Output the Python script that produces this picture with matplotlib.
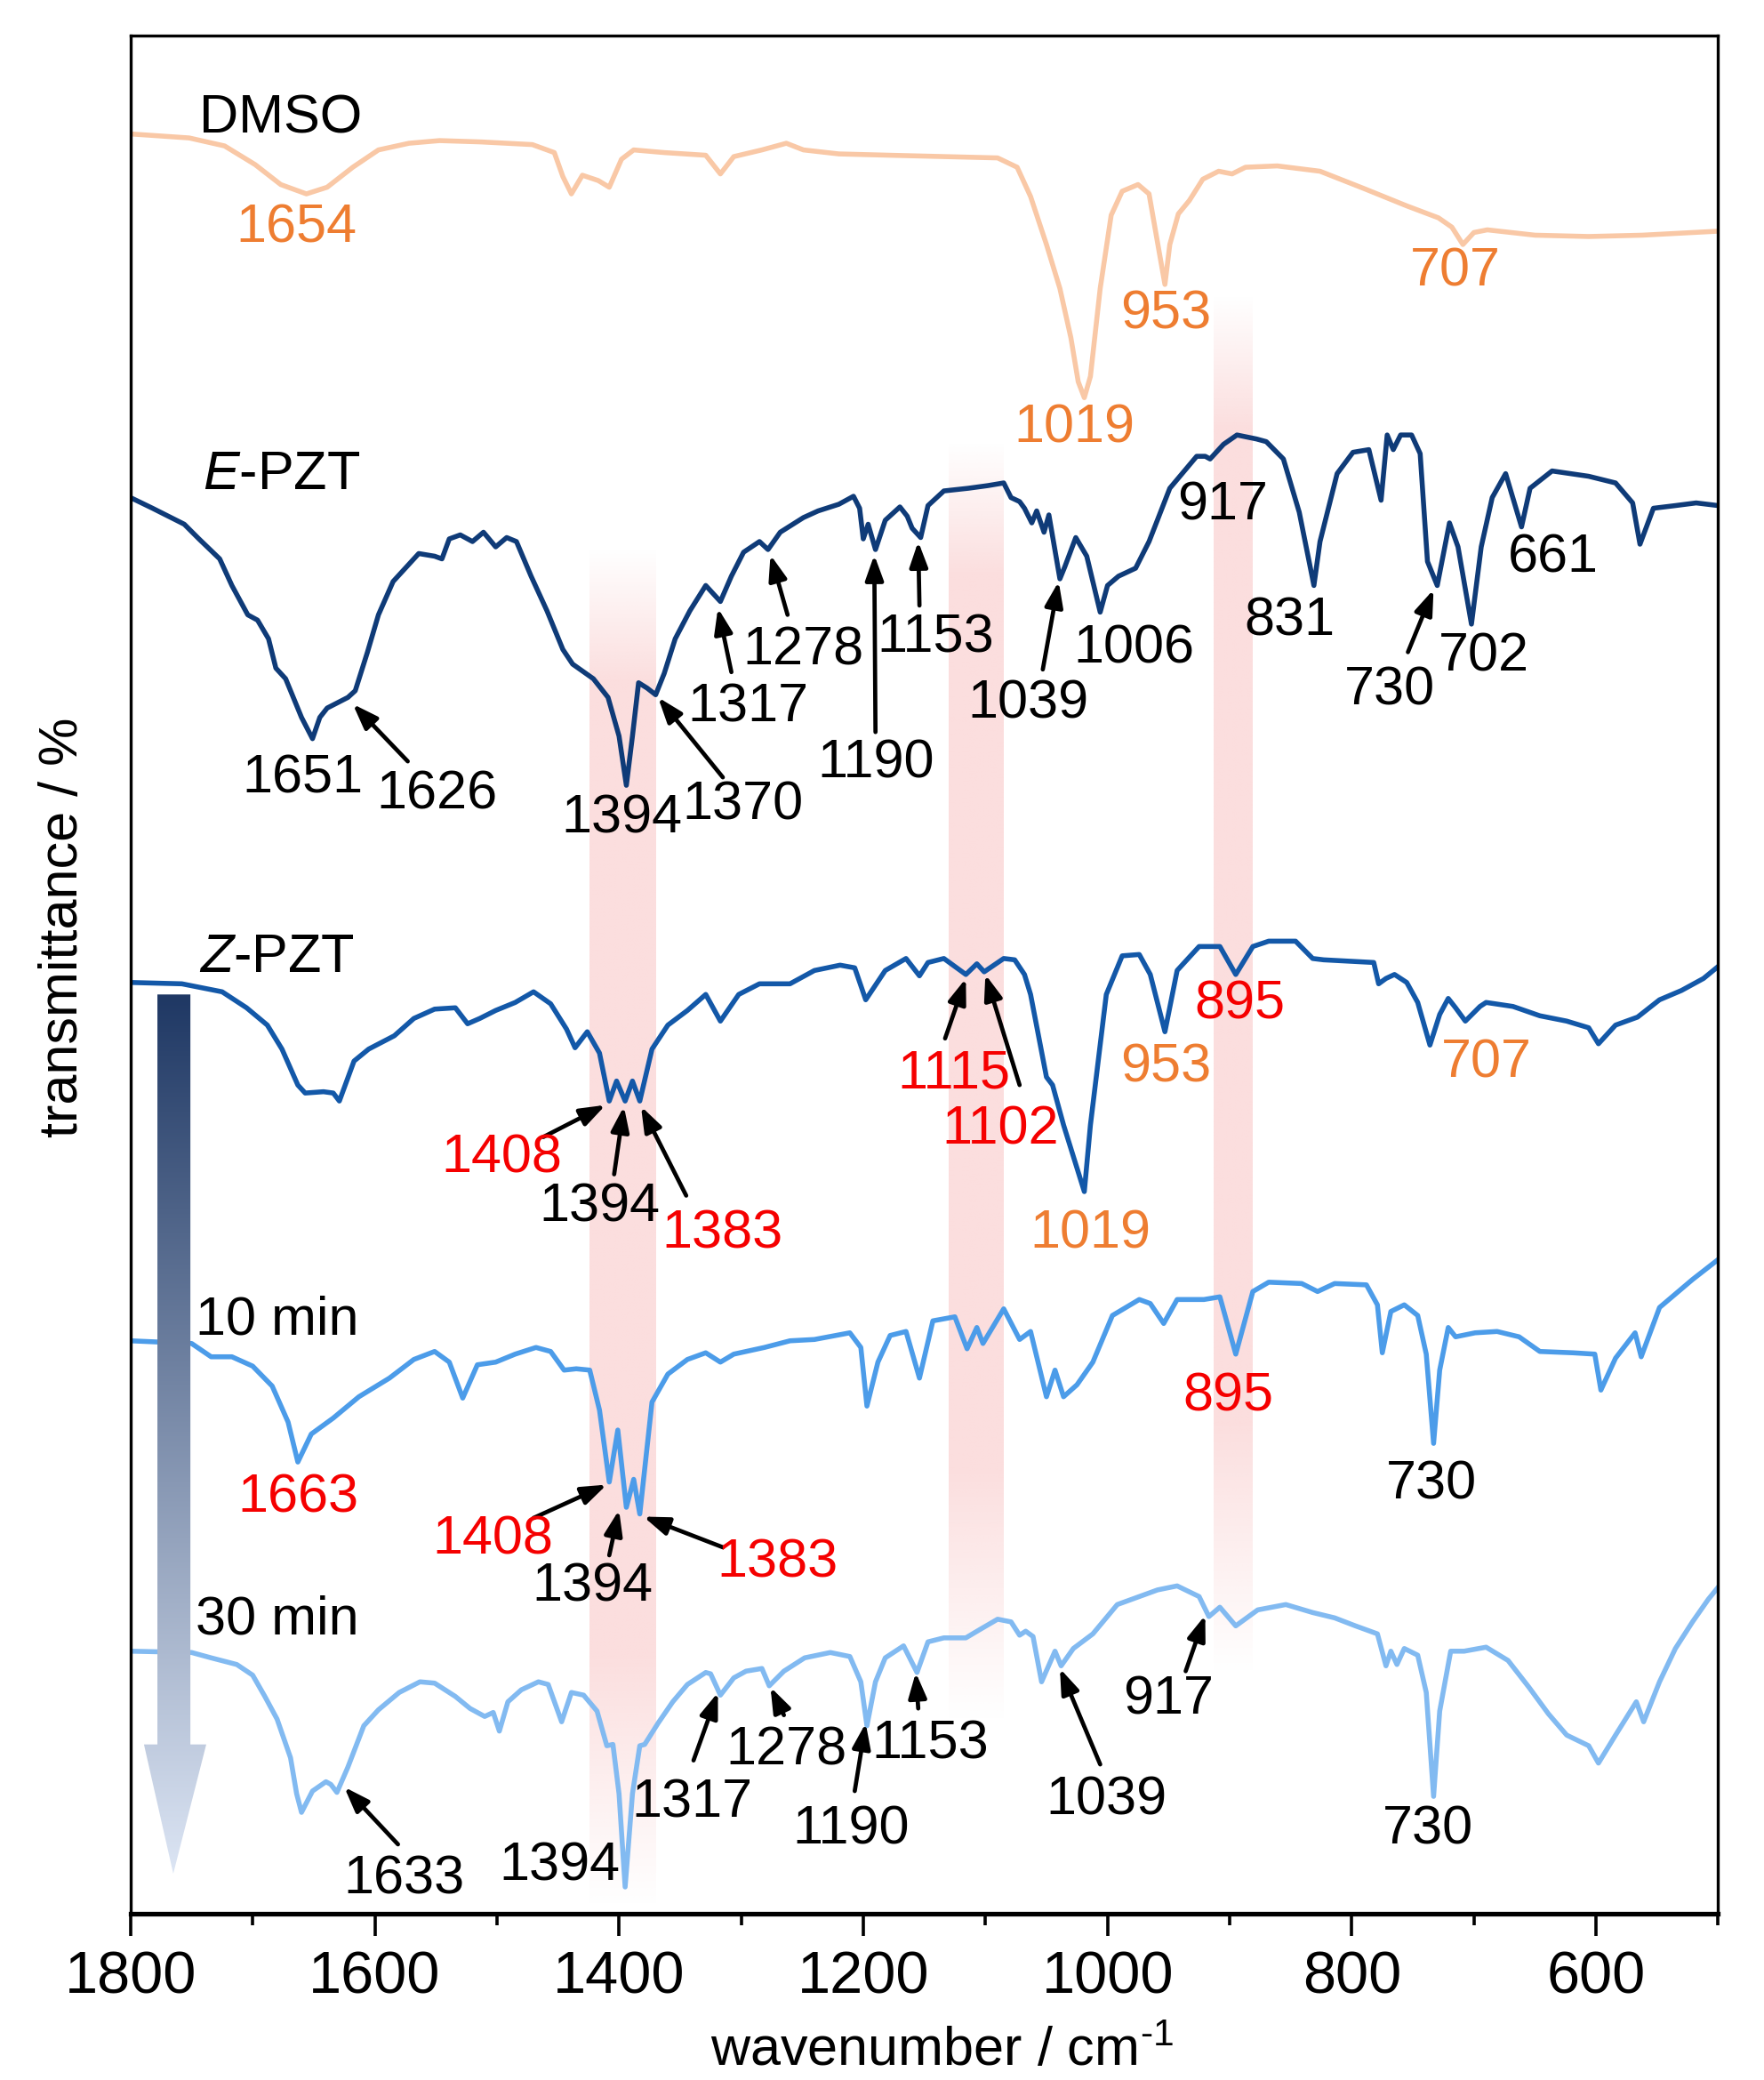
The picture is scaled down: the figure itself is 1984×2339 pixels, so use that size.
import numpy as np
import matplotlib
matplotlib.use("Agg")
import matplotlib.pyplot as plt
from matplotlib.patches import Polygon
from matplotlib.ticker import MultipleLocator

plt.rcParams['font.family'] = ['Liberation Sans', 'DejaVu Sans']
plt.rcParams['mathtext.fontset'] = 'custom'
plt.rcParams['mathtext.rm'] = 'Liberation Sans'
plt.rcParams['mathtext.it'] = 'Liberation Sans:italic'

### spectra: (wavenumber / cm-1, stacked transmittance / a.u.)
dmso = [(1800, 1336), (1752, 1333), (1723, 1327), (1698, 1313), (1677, 1298), (1656, 1291),
        (1639, 1296), (1618, 1311), (1597, 1324), (1572, 1329), (1547, 1331), (1513, 1330),
        (1471, 1328), (1453, 1322), (1446, 1304), (1439, 1291), (1430, 1305), (1417, 1301),
        (1408, 1296), (1398, 1317), (1388, 1324), (1363, 1322), (1329, 1320), (1317, 1306),
        (1306, 1319), (1283, 1324), (1263, 1329), (1249, 1324), (1220, 1321), (1178, 1320),
        (1134, 1319), (1090, 1318), (1074, 1311), (1063, 1289), (1050, 1253), (1039, 1220),
        (1030, 1183), (1024, 1150), (1019, 1138), (1014, 1154), (1006, 1220), (997, 1275),
        (988, 1293), (975, 1298), (966, 1291), (958, 1249), (953, 1223), (949, 1253),
        (942, 1276), (933, 1286), (922, 1302), (909, 1308), (898, 1306), (887, 1311),
        (861, 1312), (826, 1308), (790, 1295), (755, 1282), (729, 1273), (718, 1266),
        (709, 1253), (700, 1262), (689, 1264), (650, 1260), (606, 1259), (562, 1260),
        (500, 1263)]

e_pzt = [(1800, 1063), (1782, 1055), (1756, 1043), (1744, 1032), (1727, 1017), (1717, 997),
         (1704, 975), (1696, 971), (1687, 957), (1681, 935), (1673, 927), (1660, 898),
         (1651, 882), (1645, 898), (1639, 905), (1622, 913), (1616, 918), (1606, 947),
         (1597, 975), (1585, 1000), (1564, 1021), (1551, 1019), (1545, 1017), (1539, 1032),
         (1530, 1035), (1520, 1030), (1511, 1037), (1501, 1026), (1492, 1033), (1484, 1030),
         (1472, 1004), (1459, 978), (1446, 949), (1438, 938), (1421, 927), (1409, 913),
         (1400, 884), (1394, 847), (1389, 884), (1384, 924), (1377, 920), (1370, 915),
         (1363, 931), (1354, 957), (1342, 978), (1329, 997), (1317, 985), (1308, 1004),
         (1298, 1022), (1285, 1030), (1278, 1024), (1268, 1037), (1249, 1048), (1237, 1053),
         (1220, 1058), (1208, 1064), (1203, 1055), (1200, 1032), (1196, 1043), (1190, 1024),
         (1182, 1046), (1170, 1056), (1164, 1049), (1160, 1040), (1153, 1033), (1147, 1057),
         (1134, 1068), (1114, 1070), (1098, 1072), (1085, 1074), (1079, 1063), (1072, 1060),
         (1068, 1055), (1062, 1044), (1058, 1053), (1052, 1037), (1048, 1050), (1039, 1002),
         (1035, 1011), (1026, 1033), (1017, 1019), (1006, 977), (1000, 997), (991, 1004),
         (977, 1010), (966, 1030), (949, 1070), (927, 1094), (920, 1094), (916, 1092),
         (905, 1103), (894, 1110), (878, 1107), (870, 1105), (856, 1092), (843, 1052),
         (831, 997), (826, 1030), (812, 1081), (799, 1097), (786, 1099), (776, 1061),
         (771, 1110), (766, 1099), (760, 1110), (751, 1110), (744, 1096), (738, 1015),
         (730, 997), (720, 1044), (713, 1026), (702, 968), (694, 1026), (685, 1063),
         (674, 1081), (661, 1041), (654, 1070), (636, 1083), (606, 1079), (584, 1074),
         (570, 1059), (564, 1028), (553, 1055), (535, 1057), (518, 1059), (500, 1057)]

z_pzt = [(1800, 699), (1758, 698), (1725, 692), (1705, 680), (1688, 667), (1676, 649),
         (1663, 622), (1657, 616), (1642, 617), (1634, 616), (1629, 610), (1617, 640),
         (1605, 649), (1584, 659), (1568, 672), (1551, 679), (1534, 680), (1524, 668),
         (1514, 672), (1501, 678), (1485, 684), (1470, 692), (1456, 683), (1443, 664),
         (1436, 650), (1426, 662), (1416, 646), (1408, 610), (1402, 625), (1395, 610),
         (1389, 625), (1383, 610), (1373, 649), (1360, 667), (1344, 678), (1329, 690),
         (1317, 670), (1302, 690), (1285, 698), (1260, 698), (1240, 708), (1219, 712),
         (1207, 710), (1198, 686), (1182, 708), (1165, 717), (1154, 704), (1147, 714),
         (1134, 717), (1116, 705), (1107, 713), (1101, 707), (1085, 717), (1076, 716),
         (1068, 705), (1063, 690), (1050, 628), (1045, 622), (1036, 592), (1019, 542),
         (1014, 592), (1001, 690), (988, 719), (974, 720), (965, 705), (953, 662),
         (943, 708), (925, 726), (908, 726), (895, 705), (881, 726), (868, 730),
         (846, 730), (832, 717), (823, 716), (782, 714), (778, 698), (772, 702),
         (765, 705), (755, 699), (746, 684), (736, 652), (728, 675), (721, 687),
         (715, 680), (707, 670), (695, 681), (690, 684), (668, 681), (646, 674),
         (624, 670), (606, 665), (598, 653), (584, 667), (566, 673), (548, 686),
         (530, 693), (512, 702), (500, 711)]

min10 = [(1800, 430), (1750, 428), (1734, 418), (1717, 418), (1700, 411), (1684, 396),
         (1671, 369), (1663, 339), (1652, 360), (1634, 372), (1613, 388), (1588, 402),
         (1568, 416), (1551, 422), (1539, 414), (1528, 387), (1516, 412), (1501, 414),
         (1485, 420), (1468, 425), (1456, 422), (1445, 408), (1435, 409), (1424, 408),
         (1416, 378), (1408, 324), (1401, 363), (1394, 305), (1388, 326), (1383, 300),
         (1373, 384), (1360, 405), (1344, 416), (1329, 421), (1317, 414), (1306, 420),
         (1281, 425), (1260, 430), (1240, 431), (1211, 436), (1202, 425), (1197, 381),
         (1188, 414), (1178, 434), (1165, 437), (1154, 402), (1143, 445), (1125, 448),
         (1115, 424), (1107, 440), (1102, 428), (1085, 454), (1072, 431), (1063, 437),
         (1050, 388), (1043, 408), (1036, 388), (1025, 397), (1012, 414), (996, 449),
         (974, 461), (965, 458), (954, 443), (943, 461), (921, 461), (908, 463),
         (895, 420), (881, 467), (868, 474), (841, 473), (828, 467), (814, 473),
         (788, 472), (779, 457), (775, 421), (768, 452), (757, 457), (746, 449),
         (739, 420), (733, 353), (728, 408), (721, 440), (715, 433), (699, 436),
         (681, 437), (663, 433), (646, 422), (619, 421), (601, 420), (596, 393),
         (584, 417), (568, 436), (563, 418), (548, 455), (521, 476), (500, 491)]

min30 = [(1800, 197), (1750, 196), (1734, 192), (1713, 187), (1700, 179), (1690, 163),
         (1680, 146), (1669, 117), (1664, 90), (1660, 76), (1651, 92), (1640, 99),
         (1636, 97), (1631, 91), (1622, 110), (1609, 141), (1597, 153), (1580, 166),
         (1563, 174), (1551, 173), (1534, 163), (1522, 154), (1510, 148), (1503, 151),
         (1498, 137), (1491, 159), (1480, 168), (1466, 174), (1458, 172), (1447, 144),
         (1439, 166), (1429, 164), (1418, 152), (1410, 126), (1405, 127), (1400, 90),
         (1395, 20), (1389, 90), (1383, 126), (1379, 127), (1368, 143), (1356, 159),
         (1344, 172), (1329, 181), (1325, 180), (1317, 164), (1306, 177), (1296, 182),
         (1283, 184), (1277, 171), (1265, 182), (1248, 192), (1227, 196), (1211, 193),
         (1202, 174), (1197, 141), (1190, 174), (1182, 192), (1167, 201), (1156, 181),
         (1147, 204), (1134, 207), (1116, 207), (1105, 213), (1090, 221), (1079, 219),
         (1072, 209), (1067, 212), (1061, 208), (1054, 174), (1043, 197), (1038, 186),
         (1028, 199), (1012, 210), (992, 232), (974, 238), (959, 243), (943, 246),
         (925, 238), (917, 223), (908, 230), (895, 216), (877, 228), (854, 232),
         (832, 226), (814, 222), (797, 216), (779, 210), (772, 186), (768, 197),
         (763, 187), (757, 199), (746, 194), (739, 166), (733, 88), (728, 152),
         (719, 197), (708, 197), (690, 200), (672, 190), (655, 170), (639, 150),
         (624, 134), (606, 126), (598, 113), (584, 134), (567, 159), (561, 144),
         (548, 174), (535, 199), (521, 219), (508, 236), (500, 245)]

### Colors
c_dmso = '#F9C8A6'
c_e = '#0F3B78'
c_z = '#1358A8'
c_10 = '#4C9CE9'
c_30 = '#82BAF1'
c_orange = '#EE7D31'
c_red = '#F50000'
c_black = 'black'
c_band = (0.98, 0.80, 0.80)

series = [(dmso, c_dmso), (e_pzt, c_e), (z_pzt, c_z), (min10, c_10), (min30, c_30)]

### highlighted regions: (wn_left, wn_right, T_bottom, T_top)
bands = [(1424, 1370, 5, 1025), (1130, 1085, 145, 1105), (913, 881, 180, 1215)]

### curve names: (text, wn, T)
names = [("DMSO", 1744, 1347), (r"$E$-PZT", 1741, 1080), (r"$Z$-PZT", 1744, 717),
         ("10 min", 1747, 445), ("30 min", 1747, 220)]

### peak labels: (text, wn, T, color)
peak_labels = [
    ("1654", 1664, 1265, c_orange), ("1019", 1027, 1115, c_orange),
    ("953", 952, 1200, c_orange), ("707", 715, 1232, c_orange),
    ("1651", 1659, 852, c_black), ("1626", 1549, 840, c_black),
    ("1394", 1398, 822, c_black), ("1370", 1299, 832, c_black),
    ("1317", 1294, 905, c_black), ("1278", 1249, 948, c_black),
    ("1190", 1190, 863, c_black), ("1153", 1141, 957, c_black),
    ("1039", 1065, 908, c_black), ("1006", 978, 949, c_black),
    ("917", 906, 1057, c_black), ("831", 851, 970, c_black),
    ("730", 769, 918, c_black), ("702", 692, 943, c_black),
    ("661", 635, 1017, c_black),
    ("1408", 1496, 567, c_red), ("1394", 1416, 530, c_black),
    ("1383", 1315, 510, c_red), ("1115", 1126, 630, c_red),
    ("1102", 1088, 588, c_red), ("1019", 1014, 510, c_orange),
    ("953", 952, 635, c_orange), ("895", 892, 682, c_red),
    ("707", 690, 638, c_orange),
    ("1663", 1663, 312, c_red), ("1408", 1503, 280, c_red),
    ("1394", 1422, 245, c_black), ("1383", 1270, 263, c_red),
    ("895", 901, 388, c_red), ("730", 735, 322, c_black),
    ("1633", 1576, 25, c_black), ("1394", 1449, 35, c_black),
    ("1317", 1340, 83, c_black), ("1278", 1263, 122, c_black),
    ("1190", 1210, 63, c_black), ("1153", 1145, 127, c_black),
    ("1039", 1001, 85, c_black), ("917", 950, 160, c_black),
    ("730", 738, 63, c_black),
]

### arrows: (tail wn, tail T, head wn, head T)
arrows = [
    (1573, 865, 1618, 908), (1315, 853, 1368, 913), (1308, 932, 1319, 980),
    (1262, 975, 1276, 1020), (1190, 887, 1191, 1020), (1154, 982, 1155, 1030),
    (1053, 934, 1040, 1000), (754, 947, 733, 994),
    (1462, 583, 1411, 607), (1404, 555, 1396, 606), (1345, 539, 1382, 606),
    (1133, 657, 1116, 702), (1072, 622, 1100, 705),
    (1470, 297, 1410, 322), (1408, 269, 1400, 303), (1315, 275, 1380, 298),
    (1581, 52, 1625, 95), (1339, 115, 1319, 166), (1265, 149, 1276, 170),
    (1207, 92, 1198, 143), (1155, 154, 1157, 181), (1006, 112, 1039, 184),
    (936, 182, 920, 224),
]

### gradient arrow (time axis), outline in data units
time_arrow = [(1778, 690), (1751, 690), (1751, 127), (1738, 127),
              (1765, 30), (1789, 127), (1778, 127)]

LineWidth = 4.0
FontSize = 44


def fade(t, lo, hi, top_fade, bot_fade):
    return np.clip(np.minimum((hi - t) / top_fade, (t - lo) / bot_fade), 0, 1)


fig = plt.figure(figsize=(19.84, 23.39), dpi=100)
ax = fig.add_axes([0.074, 0.080, 0.900, 0.903])

# shaded bands
for left, right, lo, hi in bands:
    t = np.linspace(lo, hi, 400)
    img = np.zeros((len(t), 1, 4))
    img[:, 0, :3] = c_band
    img[:, 0, 3] = 0.65 * fade(t, lo, hi, 100, 190)
    ax.imshow(img, extent=(left, right, lo, hi), origin='lower', aspect='auto',
              interpolation='bilinear', zorder=0)

# spectra
for data, color in series:
    d = np.array(data, dtype=float)
    ax.plot(d[:, 0], d[:, 1], color=color, lw=LineWidth, zorder=2,
            solid_joinstyle='round')

# gradient arrow
poly = Polygon(time_arrow, closed=True, facecolor='none', edgecolor='none',
               transform=ax.transData)
ax.add_patch(poly)
ta = np.array(time_arrow)
top_c = np.array(matplotlib.colors.to_rgb('#1F3864'))
bot_c = np.array(matplotlib.colors.to_rgb('#DCE5F4'))
g = np.linspace(0, 1, 300)[:, None]
grad = (bot_c * (1 - g) + top_c * g)[:, None, :]
im = ax.imshow(grad, extent=(ta[:, 0].max(), ta[:, 0].min(), ta[:, 1].min(), ta[:, 1].max()),
               origin='lower', aspect='auto', interpolation='bilinear', zorder=3)
im.set_clip_path(poly)

# names
for txt, x, y in names:
    ax.text(x, y, txt, fontsize=FontSize, ha='left', va='center', zorder=5)

# peak labels
for txt, x, y, color in peak_labels:
    ax.text(x, y, txt, fontsize=FontSize, ha='center', va='center', color=color, zorder=5)

for x0, y0, x1, y1 in arrows:
    ax.annotate('', xy=(x1, y1), xytext=(x0, y0),
                arrowprops=dict(arrowstyle='-|>,head_length=0.5,head_width=0.18',
                                mutation_scale=34, lw=3.4, color='black',
                                shrinkA=0, shrinkB=0), zorder=4)

ax.set_xlim(1800, 500)
ax.set_ylim(0, 1410)
ax.set_yticks([])
ax.xaxis.set_major_locator(MultipleLocator(200))
ax.xaxis.set_minor_locator(MultipleLocator(100))
ax.tick_params(axis='x', which='major', length=18, width=2.6, direction='out',
               labelsize=48, pad=12)
ax.tick_params(axis='x', which='minor', length=9, width=2.6, direction='out')
for side in ['left', 'right', 'top']:
    ax.spines[side].set_linewidth(2.4)
ax.spines['bottom'].set_linewidth(3.8)

ax.set_xlabel(r'wavenumber / cm$^{\text{-1}}$', fontsize=FontSize)
ax.xaxis.set_label_coords(0.511, -0.060)
ax.set_ylabel('transmittance / %', fontsize=FontSize)
ax.yaxis.set_label_coords(-0.026, 0.525)

fig.savefig('out.png', dpi=100)
